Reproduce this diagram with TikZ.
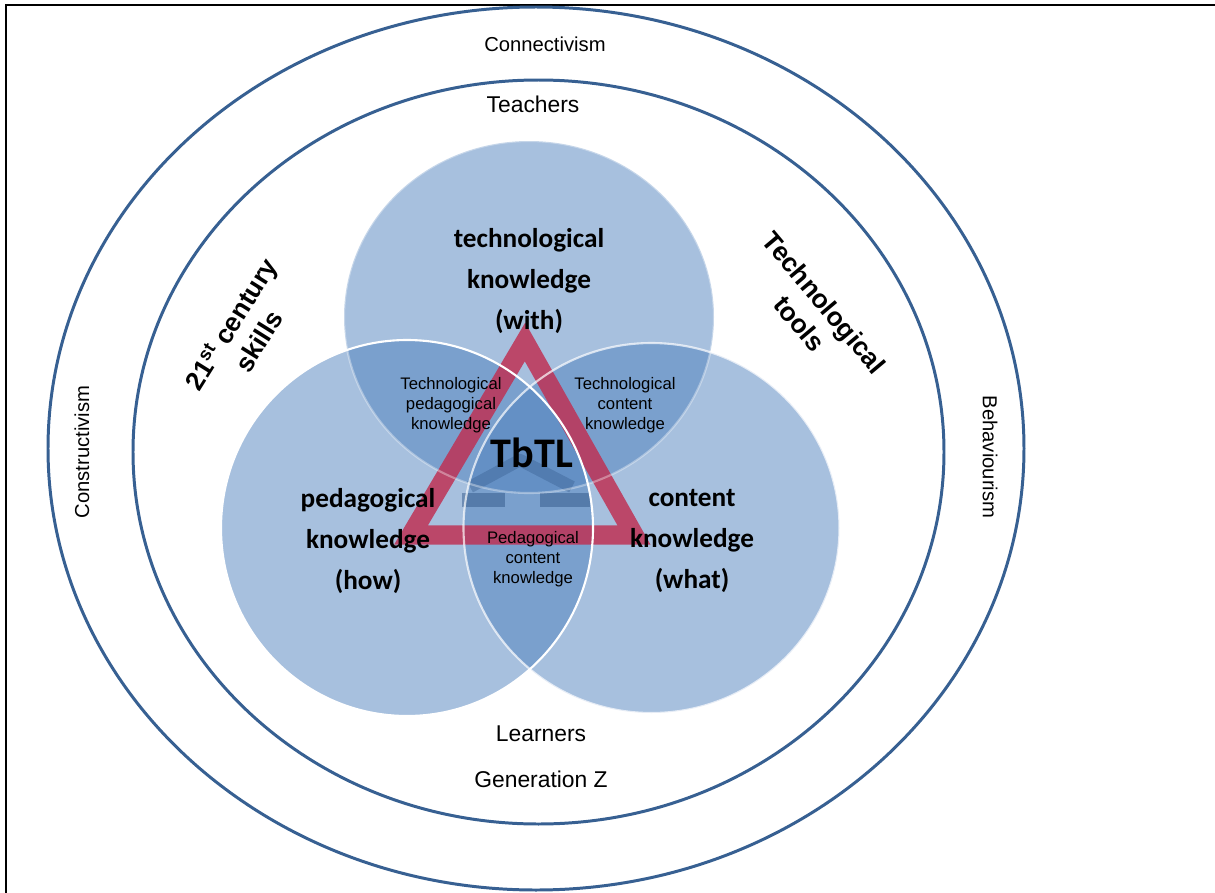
\documentclass[tikz,border=0pt]{standalone}
\usepackage{fontspec}
\setmainfont{Liberation Sans}
\newfontfamily\calibri{Carlito}
\definecolor{ringblue}{RGB}{55,96,146}
\definecolor{vennblue}{RGB}{79,129,189}
\definecolor{shadeblue}{RGB}{40,78,128}
\definecolor{trired}{RGB}{190,50,85}

\begin{document}
\begin{tikzpicture}[x=0.02cm,y=-0.02cm,
    ring/.style={draw=ringblue,line width=1.7pt},
    venn/.style={fill=vennblue,fill opacity=0.5},
    rim/.style={draw=white,line width=1.2pt},
    theory/.style={font=\fontsize{11.5}{14}\selectfont},
    actor/.style={font=\fontsize{13}{16}\selectfont},
    knowlabel/.style={font=\calibri\bfseries\fontsize{15.5}{23.2}\selectfont,align=center},
    overlap/.style={font=\fontsize{9.5}{11.3}\selectfont,align=center},
    slanted/.style={font=\bfseries\fontsize{15}{18.5}\selectfont,align=center}]
\useasboundingbox (0,0) rectangle (1215,893);

% frame
\draw[line width=1.1pt] (6,893) -- (6,5) -- (1215,5);

% rings
\draw[ring] (536,448.5) ellipse [x radius=488, y radius=441.5];
\draw[ring] (538.5,452) ellipse [x radius=405.5, y radius=372];

% three knowledge circles: top, right, left
\foreach \cx/\cy/\rx/\ry in {529/317/185/176, 651.5/528/188/185, 407/528/186/188}{
  \fill[venn] (\cx,\cy) ellipse [x radius=\rx, y radius=\ry];
}

% triangle and its shadow
\draw[shadeblue,line width=7pt,draw opacity=0.3,line join=round] (470,487) -- (520,460) -- (572,487);
\draw[shadeblue,line width=8pt,draw opacity=0.45] (462,500) -- (505,500) (540,500) -- (590,500);
\draw[trired,line width=11pt,draw opacity=0.85,line join=miter] (525,342) -- (634,535) -- (411,535) -- cycle;

\foreach \cx/\cy/\rx/\ry/\op in {529/317/185/176/0.35, 651.5/528/188/185/0.7, 407/528/186/188/1}{
  \draw[rim,draw opacity=\op] (\cx,\cy) ellipse [x radius=\rx, y radius=\ry];
}

% ring labels
\node[theory] (connect) at (545,44) {Connectivism};
\node[theory,rotate=90] (construct) at (82,452) {Constructivism};
\node[theory,rotate=-90] (behave) at (990,457) {Behaviourism};
\node[actor] (teach) at (533,104) {Teachers};
\node[actor] (learn) at (541,734) {Learners};
\node[actor] (genz) at (541,779) {Generation Z};
\node[slanted,rotate=58] (skills) at (244,332) {21\textsuperscript{st} century\\skills};
\node[slanted,rotate=-50] (tools) at (812,313) {Technological\\tools};

% knowledge labels
\node[knowlabel] (tk) at (529,281) {technological\\knowledge\\(with)};
\node[knowlabel] (pk) at (368,541) {pedagogical\\knowledge\\(how)};
\node[knowlabel] (ck) at (692,541) {content\\knowledge\\(what)};
\node[overlap] (tpk) at (451,405) {Technological\\pedagogical\\knowledge};
\node[overlap] (tck) at (625,405) {Technological\\content\\knowledge};
\node[overlap] (pck) at (533,559) {Pedagogical\\content\\knowledge};
\node[font=\calibri\bfseries\fontsize{24}{28}\selectfont] (tbtl) at (532,453) {TbTL};

\end{tikzpicture}
\end{document}
